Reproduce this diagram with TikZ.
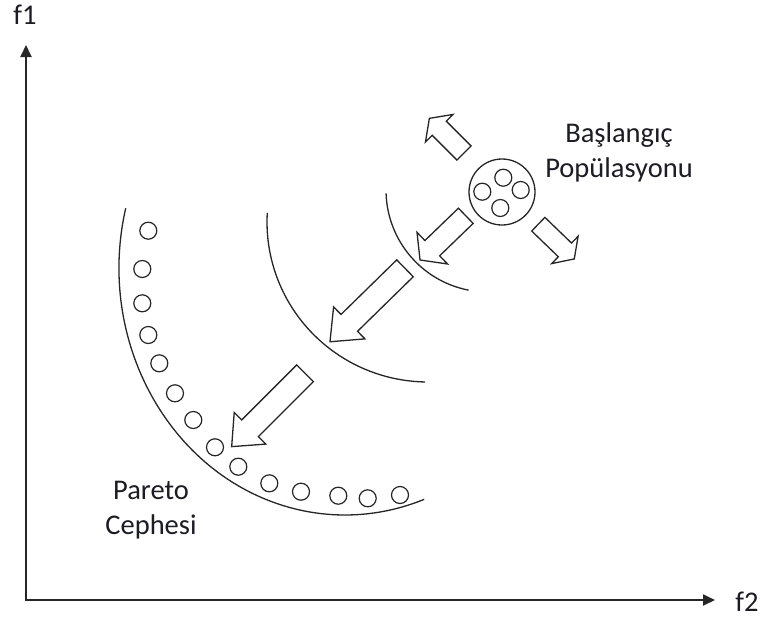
\documentclass[tikz,border=0pt]{standalone}
\usepackage{fontspec}
\setmainfont{Carlito}
\usetikzlibrary{arrows.meta}
\definecolor{ink}{RGB}{38,38,38}
\definecolor{txt}{RGB}{28,28,36}
% hollow block arrow: tail point, direction (deg), length, shaft half-width, head half-width, head length
\newcommand{\blockarrow}[6]{%
  \pgfmathsetmacro\bahead{#3-#6}%
  \draw[blockarr, shift={(#1)}, rotate=#2]
    (0pt,#4pt) -- (\bahead pt,#4pt) -- (\bahead pt,#5pt) -- (#3pt,0pt)
    -- (\bahead pt,-#5pt) -- (\bahead pt,-#4pt) -- (0pt,-#4pt) -- cycle;}
\begin{document}
\begin{tikzpicture}[x=1pt,y=-1pt,
  axis/.style={draw=ink,line width=1.8pt,{Triangle[length=12pt,width=11pt]}-{Triangle[length=12pt,width=11pt]}},
  front/.style={draw=ink,line width=1.3pt},
  dot/.style={circle,draw=ink,line width=1.2pt,minimum size=17pt,inner sep=0pt},
  popc/.style={circle,draw=ink,line width=1.3pt,minimum size=66pt,inner sep=0pt},
  blockarr/.style={draw=ink,line width=1.3pt,fill=white,line join=miter},
  lbl/.style={text=txt,font=\fontsize{28.5}{35}\selectfont,inner sep=0pt,align=center}]
\useasboundingbox[fill=white] (0,0) rectangle (763,621);

% axes
\coordinate (ytip) at (26,45);
\coordinate (O) at (26,600);
\coordinate (xtip) at (715,600);
\draw[axis] (ytip) -- (O) -- (xtip);
\node[lbl] (f1) at (25,15) {f1};
\node[lbl] (f2) at (747,602) {f2};

% successive fronts
\draw[front] ([shift={(166:226pt and 247pt)}]345,268)
  arc[start angle=166,end angle=290.5,x radius=226pt,y radius=247pt];
\draw[front] ([shift={(176.7:161pt and 160pt)}]428,222)
  arc[start angle=176.7,end angle=269,x radius=161pt,y radius=160pt];
\draw[front] ([shift={(181.9:102pt)}]488,190)
  arc[start angle=181.9,end angle=259,radius=102pt];

% solutions on the Pareto front
\foreach \i/\px/\py in {1/148.3/230.7,2/142.3/269,3/142.3/303.3,4/148.3/335,
  5/159.3/363.3,6/175/393.3,7/193.3/420,8/215/447.3,9/238.3/466.7,
  10/269.3/483.3,11/301/491.7,12/338.3/495.7,13/367.7/498.3,14/400/495}
  \node[dot] (p\i) at (\px,\py) {};

% initial population
\node[popc] (pop) at (502,192) {};
\node[dot] (q1) at (503.3,177.7) {};
\node[dot] (q2) at (482.3,191.7) {};
\node[dot] (q3) at (520.7,190) {};
\node[dot] (q4) at (500.3,208) {};

% search directions
\blockarrow{464,153}{135}{49}{10}{19.5}{14}
\blockarrow{465.8,215.8}{224}{63.6}{10.6}{22}{17}
\blockarrow{538.3,224.2}{316}{50}{9.5}{19}{13}
\blockarrow{405,268.3}{224.4}{105}{11.8}{22.4}{27}
\blockarrow{305,373.3}{225}{103.7}{11.8}{22.4}{26}

% labels
\node[lbl] (start) at (619,152) {Başlangıç\\Popülasyonu};
\node[lbl] (pareto) at (151,510) {Pareto\\Cephesi};
\end{tikzpicture}
\end{document}
